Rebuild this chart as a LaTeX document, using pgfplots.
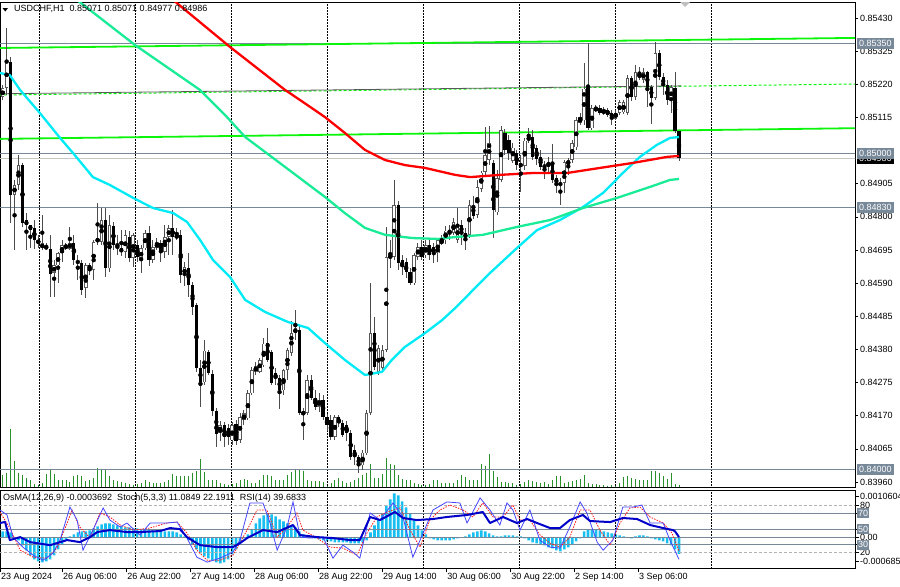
\documentclass[border=0pt]{standalone}
\usepackage{pgfplots}
\pgfplotsset{compat=1.18}
\usepackage{pgfplotstable}
\usepackage{fontspec}
\setmainfont{Liberation Sans}
\definecolor{lvl}{RGB}{119,136,153}
\definecolor{aquaMA}{RGB}{0,235,245}
\definecolor{springMA}{RGB}{25,235,150}
\definecolor{limeL}{RGB}{10,245,10}
\definecolor{osma}{RGB}{25,190,240}
\definecolor{volg}{RGB}{40,145,40}
\definecolor{rsiblue}{RGB}{0,0,200}
\definecolor{stochblue}{RGB}{70,70,255}
\newcommand{\tf}{\fontsize{9bp}{10bp}\selectfont}

\pgfplotstableread{
i o h l c
0 0.85180 0.85218 0.85170 0.85208
1 0.85208 0.85401 0.85186 0.85291
2 0.85291 0.85306 0.84781 0.84869
3 0.84869 0.84917 0.84695 0.84901
4 0.84901 0.84996 0.84885 0.84964
5 0.84964 0.84971 0.84768 0.84781
6 0.84790 0.84812 0.84695 0.84774
7 0.84774 0.84774 0.84701 0.84758
8 0.84765 0.84790 0.84701 0.84727
9 0.84727 0.84743 0.84701 0.84717
10 0.84701 0.84806 0.84695 0.84717
11 0.84708 0.84717 0.84695 0.84701
12 0.84701 0.84743 0.84546 0.84622
13 0.84622 0.84663 0.84546 0.84647
14 0.84647 0.84689 0.84590 0.84685
15 0.84685 0.84727 0.84657 0.84711
16 0.84704 0.84717 0.84695 0.84711
17 0.84701 0.84768 0.84695 0.84720
18 0.84717 0.84743 0.84647 0.84663
19 0.84663 0.84679 0.84600 0.84654
20 0.84654 0.84663 0.84552 0.84568
21 0.84575 0.84654 0.84543 0.84647
22 0.84647 0.84654 0.84616 0.84632
23 0.84632 0.84727 0.84600 0.84720
24 0.84720 0.84844 0.84711 0.84733
25 0.84720 0.84828 0.84711 0.84790
26 0.84790 0.84828 0.84609 0.84638
27 0.84638 0.84806 0.84625 0.84774
28 0.84771 0.84784 0.84695 0.84711
29 0.84711 0.84743 0.84679 0.84701
30 0.84701 0.84758 0.84676 0.84689
31 0.84689 0.84758 0.84670 0.84743
32 0.84739 0.84758 0.84657 0.84670
33 0.84670 0.84749 0.84641 0.84743
34 0.84711 0.84727 0.84657 0.84673
35 0.84663 0.84711 0.84622 0.84701
36 0.84701 0.84758 0.84695 0.84749
37 0.84749 0.84774 0.84647 0.84663
38 0.84663 0.84727 0.84654 0.84704
39 0.84704 0.84733 0.84695 0.84720
40 0.84717 0.84727 0.84657 0.84689
41 0.84689 0.84774 0.84670 0.84736
42 0.84736 0.84774 0.84679 0.84765
43 0.84765 0.84822 0.84679 0.84736
44 0.84736 0.84765 0.84727 0.84743
45 0.84743 0.84758 0.84590 0.84616
46 0.84616 0.84657 0.84584 0.84641
47 0.84638 0.84685 0.84546 0.84584
48 0.84584 0.84594 0.84489 0.84514
49 0.84521 0.84527 0.84309 0.84321
50 0.84321 0.84347 0.84198 0.84277
51 0.84277 0.84410 0.84267 0.84378
52 0.84372 0.84378 0.84299 0.84305
53 0.84305 0.84315 0.84172 0.84188
54 0.84188 0.84194 0.84071 0.84115
55 0.84115 0.84156 0.84093 0.84141
56 0.84141 0.84150 0.84071 0.84103
57 0.84134 0.84144 0.84077 0.84103
58 0.84093 0.84150 0.84077 0.84141
59 0.84144 0.84156 0.84077 0.84093
60 0.84093 0.84179 0.84084 0.84166
61 0.84156 0.84188 0.84141 0.84179
62 0.84163 0.84251 0.84156 0.84242
63 0.84242 0.84324 0.84236 0.84315
64 0.84309 0.84340 0.84299 0.84328
65 0.84309 0.84353 0.84305 0.84347
66 0.84331 0.84416 0.84324 0.84400
67 0.84400 0.84448 0.84340 0.84347
68 0.84372 0.84378 0.84267 0.84274
69 0.84305 0.84321 0.84267 0.84289
70 0.84289 0.84299 0.84194 0.84251
71 0.84251 0.84321 0.84236 0.84315
72 0.84315 0.84385 0.84283 0.84378
73 0.84369 0.84473 0.84362 0.84432
74 0.84432 0.84505 0.84410 0.84448
75 0.84442 0.84457 0.84172 0.84179
76 0.84172 0.84194 0.84093 0.84185
77 0.84179 0.84299 0.84172 0.84283
78 0.84283 0.84299 0.84220 0.84226
79 0.84226 0.84251 0.84188 0.84198
80 0.84198 0.84242 0.84182 0.84220
81 0.84220 0.84236 0.84156 0.84166
82 0.84166 0.84179 0.84125 0.84141
83 0.84156 0.84172 0.84093 0.84103
84 0.84103 0.84172 0.84093 0.84166
85 0.84166 0.84172 0.84134 0.84147
86 0.84147 0.84156 0.84103 0.84109
87 0.84141 0.84156 0.84093 0.84115
88 0.84115 0.84125 0.84030 0.84039
89 0.84061 0.84077 0.84014 0.84039
90 0.84039 0.84046 0.83989 0.84014
91 0.84014 0.84061 0.83998 0.84055
92 0.84052 0.84188 0.84046 0.84179
93 0.84179 0.84590 0.84172 0.84432
94 0.84432 0.84483 0.84315 0.84324
95 0.84309 0.84394 0.84299 0.84385
96 0.84321 0.84394 0.84309 0.84378
97 0.84378 0.84768 0.84372 0.84673
98 0.84670 0.84727 0.84638 0.84679
99 0.84673 0.84917 0.84663 0.84838
100 0.84838 0.84853 0.84632 0.84654
101 0.84663 0.84679 0.84616 0.84641
102 0.84657 0.84670 0.84606 0.84625
103 0.84625 0.84638 0.84584 0.84590
104 0.84590 0.84685 0.84584 0.84679
105 0.84673 0.84717 0.84663 0.84704
106 0.84704 0.84727 0.84663 0.84673
107 0.84679 0.84727 0.84670 0.84711
108 0.84711 0.84727 0.84663 0.84679
109 0.84704 0.84717 0.84654 0.84685
110 0.84685 0.84733 0.84657 0.84727
111 0.84717 0.84743 0.84711 0.84727
112 0.84727 0.84774 0.84717 0.84758
113 0.84758 0.84774 0.84727 0.84749
114 0.84749 0.84796 0.84743 0.84784
115 0.84727 0.84828 0.84717 0.84774
116 0.84774 0.84790 0.84711 0.84749
117 0.84749 0.84765 0.84695 0.84736
118 0.84743 0.84853 0.84733 0.84838
119 0.84838 0.84869 0.84796 0.84806
120 0.84806 0.84917 0.84796 0.84895
121 0.84891 0.84948 0.84879 0.84942
122 0.84942 0.85085 0.84933 0.84996
123 0.84980 0.85088 0.84964 0.85034
124 0.84971 0.84980 0.84733 0.84822
125 0.84815 0.84948 0.84806 0.84923
126 0.84917 0.85088 0.84910 0.85075
127 0.85066 0.85081 0.84996 0.85012
128 0.85043 0.85059 0.84980 0.85002
129 0.84980 0.85034 0.84971 0.85021
130 0.85002 0.85012 0.84948 0.84964
131 0.84971 0.84996 0.84879 0.84958
132 0.84964 0.85050 0.84948 0.85043
133 0.85043 0.85081 0.85034 0.85053
134 0.85053 0.85075 0.84980 0.84990
135 0.85021 0.85028 0.84964 0.84986
136 0.84990 0.85012 0.84948 0.84958
137 0.84964 0.84980 0.84923 0.84955
138 0.84958 0.84990 0.84942 0.84974
139 0.84974 0.85031 0.84907 0.84917
140 0.84923 0.84933 0.84876 0.84907
141 0.84910 0.84923 0.84838 0.84901
142 0.84907 0.84980 0.84876 0.84974
143 0.84964 0.84986 0.84933 0.84980
144 0.84980 0.85043 0.84971 0.85034
145 0.85021 0.85116 0.85012 0.85107
146 0.85097 0.85132 0.85091 0.85116
147 0.85107 0.85287 0.85091 0.85208
148 0.85208 0.85351 0.85075 0.85081
149 0.85081 0.85154 0.85075 0.85145
150 0.85139 0.85154 0.85132 0.85145
151 0.85145 0.85154 0.85123 0.85129
152 0.85129 0.85148 0.85123 0.85139
153 0.85139 0.85145 0.85116 0.85123
154 0.85132 0.85139 0.85091 0.85113
155 0.85113 0.85139 0.85107 0.85132
156 0.85129 0.85170 0.85123 0.85164
157 0.85132 0.85170 0.85126 0.85164
158 0.85129 0.85249 0.85123 0.85240
159 0.85240 0.85249 0.85170 0.85180
160 0.85180 0.85281 0.85170 0.85259
161 0.85240 0.85275 0.85234 0.85256
162 0.85234 0.85272 0.85224 0.85259
163 0.85259 0.85265 0.85148 0.85211
164 0.85211 0.85218 0.85097 0.85177
165 0.85177 0.85354 0.85170 0.85319
166 0.85319 0.85329 0.85234 0.85243
167 0.85243 0.85256 0.85186 0.85218
168 0.85218 0.85234 0.85154 0.85170
169 0.85170 0.85218 0.85129 0.85211
170 0.85208 0.85259 0.85066 0.85071
171 0.85071 0.85071 0.84977 0.84986
}\candles

\pgfplotstableread[row sep=\\]{
i v\\
0 12\\ 1 14\\ 2 58\\ 3 26\\ 4 14\\ 5 12\\ 6 9\\ 7 7\\ 8 3\\ 9 2\\ 10 4\\ 11 13\\ 12 17\\ 13 13\\ 14 7\\ 15 7\\ 16 7\\ 17 5\\ 18 11\\ 19 12\\
20 11\\ 21 6\\ 22 7\\ 23 9\\ 24 19\\ 25 18\\ 26 18\\ 27 11\\ 28 7\\ 29 6\\ 30 5\\ 31 4\\ 32 3\\ 33 2\\ 34 3\\ 35 4\\ 36 7\\ 37 5\\ 38 4\\ 39 4\\
40 4\\ 41 5\\ 42 7\\ 43 13\\ 44 11\\ 45 11\\ 46 11\\ 47 11\\ 48 14\\ 49 16\\ 50 28\\ 51 15\\ 52 7\\ 53 7\\ 54 7\\ 55 4\\ 56 3\\ 57 2\\ 58 3\\ 59 4\\
60 7\\ 61 8\\ 62 7\\ 63 4\\ 64 4\\ 65 7\\ 66 12\\ 67 12\\ 68 11\\ 69 7\\ 70 7\\ 71 7\\ 72 12\\ 73 15\\ 74 17\\ 75 17\\ 76 16\\ 77 7\\ 78 6\\ 79 6\\
80 6\\ 81 5\\ 82 3\\ 83 4\\ 84 7\\ 85 9\\ 86 6\\ 87 4\\ 88 5\\ 89 7\\ 90 9\\ 91 12\\ 92 14\\ 93 23\\ 94 9\\ 95 9\\ 96 13\\ 97 29\\ 98 23\\ 99 22\\
100 12\\ 101 8\\ 102 7\\ 103 7\\ 104 4\\ 105 3\\ 106 2\\ 107 2\\ 108 3\\ 109 7\\ 110 7\\ 111 4\\ 112 4\\ 113 4\\ 114 4\\ 115 7\\ 116 12\\ 117 10\\ 118 7\\ 119 7\\
120 7\\ 121 23\\ 122 21\\ 123 33\\ 124 16\\ 125 10\\ 126 5\\ 127 5\\ 128 4\\ 129 4\\ 130 2\\ 131 3\\ 132 5\\ 133 7\\ 134 6\\ 135 5\\ 136 4\\ 137 5\\ 138 3\\ 139 7\\
140 11\\ 141 11\\ 142 4\\ 143 5\\ 144 6\\ 145 7\\ 146 8\\ 147 12\\ 148 4\\ 149 3\\ 150 3\\ 151 2\\ 152 2\\ 153 1\\ 154 2\\ 155 2\\ 156 4\\ 157 10\\ 158 11\\ 159 9\\
160 8\\ 161 7\\ 162 7\\ 163 7\\ 164 16\\ 165 16\\ 166 14\\ 167 11\\ 168 8\\ 169 14\\ 170 3\\ 171 2\\
}\vol

% OsMA(12,26,9) in units of 0.00001
\pgfplotstableread[row sep=\\]{
i m\\
0 13.4\\ 1 13.4\\ 2 11.2\\ 3 0\\ 4 -6.7\\ 5 -17.9\\ 6 -29.1\\ 7 -40.3\\ 8 -49.2\\ 9 -53.7\\ 10 -55.9\\ 11 -53.7\\ 12 -49.2\\ 13 -40.3\\ 14 -26.9\\ 15 -15.7\\ 16 -6.7\\ 17 2.2\\ 18 6.7\\ 19 11.2\\
20 13.4\\ 21 13.4\\ 22 15.7\\ 23 20.1\\ 24 24.6\\ 25 29.1\\ 26 31.3\\ 27 31.3\\ 28 29.1\\ 29 26.9\\ 30 24.6\\ 31 22.4\\ 32 22.4\\ 33 20.1\\ 34 20.1\\ 35 17.9\\ 36 17.9\\ 37 17.9\\ 38 15.7\\ 39 15.7\\
40 15.7\\ 41 13.4\\ 42 13.4\\ 43 13.4\\ 44 11.2\\ 45 6.7\\ 46 2.2\\ 47 -6.7\\ 48 -15.7\\ 49 -26.9\\ 50 -35.8\\ 51 -42.5\\ 52 -47.0\\ 53 -51.5\\ 54 -55.9\\ 55 -58.2\\ 56 -55.9\\ 57 -49.2\\ 58 -38.0\\ 59 -26.9\\
60 -13.4\\ 61 -2.2\\ 62 6.7\\ 63 17.9\\ 64 31.3\\ 65 42.5\\ 66 49.2\\ 67 53.7\\ 68 51.5\\ 69 47.0\\ 70 40.3\\ 71 35.8\\ 72 31.3\\ 73 26.9\\ 74 22.4\\ 75 13.4\\ 76 6.7\\ 77 2.2\\ 78 0\\ 79 -2.2\\
80 -4.5\\ 81 -6.7\\ 82 -9.0\\ 83 -9.0\\ 84 -11.2\\ 85 -11.2\\ 86 -11.2\\ 87 -11.2\\ 88 -13.4\\ 89 -13.4\\ 90 -13.4\\ 91 -11.2\\ 92 -6.7\\ 93 11.2\\ 94 26.9\\ 95 40.3\\ 96 53.7\\ 97 71.6\\ 98 85.0\\ 99 98.5\\
100 94.0\\ 101 80.6\\ 102 67.1\\ 103 53.7\\ 104 40.3\\ 105 26.9\\ 106 15.7\\ 107 6.7\\ 108 -2.2\\ 109 -4.5\\ 110 -6.7\\ 111 -6.7\\ 112 -6.7\\ 113 -6.7\\ 114 -4.5\\ 115 -2.2\\ 116 0\\ 117 2.2\\ 118 6.7\\ 119 11.2\\
120 13.4\\ 121 15.7\\ 122 13.4\\ 123 9.0\\ 124 4.5\\ 125 2.2\\ 126 2.2\\ 127 4.5\\ 128 4.5\\ 129 4.5\\ 130 2.2\\ 131 2.2\\ 132 -2.2\\ 133 -6.7\\ 134 -11.2\\ 135 -13.4\\ 136 -15.7\\ 137 -17.9\\ 138 -22.4\\ 139 -24.6\\
140 -29.1\\ 141 -31.3\\ 142 -26.9\\ 143 -22.4\\ 144 -15.7\\ 145 -9.0\\ 146 -2.2\\ 147 13.4\\ 148 17.9\\ 149 17.9\\ 150 17.9\\ 151 15.7\\ 152 13.4\\ 153 11.2\\ 154 9.0\\ 155 6.7\\ 156 4.5\\ 157 2.2\\ 158 0\\ 159 -2.2\\
160 2.2\\ 161 4.5\\ 162 4.5\\ 163 2.2\\ 164 -2.2\\ 165 -4.5\\ 166 -6.7\\ 167 -9.0\\ 168 -13.4\\ 169 -17.9\\ 170 -26.9\\ 171 -36.92\\
}\osmatab

\pgfplotsset{
  chartbase/.style={scale only axis, width=855bp, xmin=-0.683, xmax=215.5,
    anchor=north west, axis line style={black, line width=0.8bp},
    tick style={black, line width=0.6bp}, every tick label/.append style={font=\tf}},
  wick/.style={only marks, mark=none, forget plot, error bars/.cd, y dir=both, y explicit, error mark=none},
}

\begin{document}
\begin{tikzpicture}
\useasboundingbox (0bp,0bp) rectangle (900bp,-587bp);
\clip (0bp,0bp) rectangle (900bp,-587bp);

% ---------- volumes ----------
\begin{axis}[chartbase, at={(0bp,-2bp)}, height=485bp, ymin=0, ymax=485, hide axis]
\addplot[ycomb, volg, line width=0.9bp, mark=none] table[x=i,y=v]{\vol};
\end{axis}

% ---------- main price panel ----------
\begin{axis}[chartbase, at={(0bp,-2bp)}, height=485bp,
  ymin=0.839442, ymax=0.854807, xtick=\empty,
  ytick={0.83960,0.84065,0.84170,0.84275,0.84380,0.84485,0.84590,0.84695,0.84800,0.84905,0.85115,0.85220,0.85325,0.85430},
  yticklabels={0.83960,0.84065,0.84170,0.84275,0.84380,0.84485,0.84590,0.84695,0.84800,0.84905,0.85115,0.85220,0.85325,0.85430},
  ytick pos=right, yticklabel pos=right, ytick align=outside, major tick length=3bp,
  yticklabel style={anchor=west, inner sep=0pt, xshift=2bp}]
% grid
\pgfplotsinvokeforeach{9.30,33.58,57.85,82.12,106.40,130.67,154.94,179.21}{
  \addplot[black, line width=0.6bp, dash pattern=on 1.5bp off 1.5bp, forget plot] coordinates {(#1,0.8390) (#1,0.8550)};
}
% level lines
\addplot[lvl, line width=1bp] coordinates {(-1,0.85350) (216,0.85350)};
\addplot[lvl, line width=1bp] coordinates {(-1,0.85000) (216,0.85000)};
\addplot[black!22, line width=1bp] coordinates {(-1,0.84986) (216,0.84986)};
\addplot[lvl, line width=1bp] coordinates {(-1,0.84830) (216,0.84830)};
\addplot[lvl, line width=1bp] coordinates {(-1,0.84000) (216,0.84000)};
% channel lines
\addplot[limeL, line width=1.8bp] coordinates {(-1,0.85335) (216,0.85367)};
\addplot[limeL, line width=1bp, dash pattern=on 3bp off 2bp] coordinates {(-1,0.85186) (216,0.85221)};
\addplot[black!65, line width=0.8bp] coordinates {(-1,0.85190) (171.5,0.85215)};
\addplot[limeL, line width=1.8bp] coordinates {(-1,0.85047) (216,0.85081)};
% candles: wicks
\addplot[wick, error bar style={draw=black!70, line width=1bp}]
  table[x=i, y expr={(\thisrow{h}+\thisrow{l})/2}, y error expr={(\thisrow{h}-\thisrow{l})/2}]{\candles};
% bearish bodies
\addplot[wick, error bar style={draw=black, line width=3.2bp}]
  table[x=i, y expr={\thisrow{c}<\thisrow{o} ? (\thisrow{o}+\thisrow{c})/2 : nan},
        y error expr={max(abs(\thisrow{o}-\thisrow{c})/2,0.000010)}]{\candles};
% bullish bodies
\addplot[wick, error bar style={draw=black!65, line width=3.5bp}]
  table[x=i, y expr={\thisrow{c}<\thisrow{o} ? nan : (\thisrow{o}+\thisrow{c})/2},
        y error expr={max(abs(\thisrow{o}-\thisrow{c})/2,0.000010)}]{\candles};
\addplot[wick, error bar style={draw=white, line width=1.7bp}]
  table[x=i, y expr={\thisrow{c}<\thisrow{o} ? nan : (\thisrow{o}+\thisrow{c})/2},
        y error expr={max(abs(\thisrow{o}-\thisrow{c})/2-0.000025,0)}]{\candles};
% moving averages
\addplot[aquaMA, line width=2.3bp, line join=round] coordinates {
(-0.7,0.85256) (1.8,0.85249) (4.4,0.85202) (9.4,0.85129) (14.5,0.85050) (17.8,0.85002) (22.8,0.84926) (27.1,0.84901) (33.0,0.84860) (38.0,0.84828) (43.1,0.84812) (46.6,0.84784) (49.9,0.84727) (53.2,0.84663) (57.5,0.84609) (61.3,0.84537) (66.3,0.84499) (72.1,0.84467) (77.2,0.84448) (81.5,0.84400) (86.5,0.84347) (91.6,0.84299) (95.9,0.84309) (98.4,0.84347) (101.7,0.84388) (106.8,0.84432) (111.1,0.84473) (114.4,0.84511) (118.2,0.84559) (123.2,0.84622) (130.0,0.84701) (135.1,0.84758) (140.9,0.84790) (146.7,0.84831) (151.8,0.84876) (156.8,0.84939) (161.1,0.84990) (165.4,0.85028) (168.7,0.85050) (171.0,0.85053)};
\addplot[springMA, line width=2.3bp, line join=round] coordinates {
(13.2,0.85535) (18.8,0.85487) (33.5,0.85344) (49.9,0.85202) (56.2,0.85123) (61.3,0.85053) (71.4,0.84958) (81.5,0.84863) (86.5,0.84812) (91.6,0.84765) (96.7,0.84743) (103.5,0.84733) (110.1,0.84730) (114.4,0.84736) (121.4,0.84743) (130.0,0.84768) (138.4,0.84790) (146.7,0.84828) (155.3,0.84860) (163.7,0.84895) (168.7,0.84917) (171.0,0.84920)};
\addplot[red, line width=2.3bp, line join=round] coordinates {
(39.8,0.85535) (43.1,0.85487) (57.5,0.85338) (71.4,0.85202) (75.2,0.85170) (81.5,0.85116) (86.5,0.85066) (91.6,0.85012) (96.7,0.84980) (101.7,0.84964) (106.8,0.84955) (114.4,0.84933) (118.2,0.84926) (125.7,0.84933) (134.1,0.84939) (142.7,0.84939) (151.0,0.84955) (159.4,0.84971) (168.0,0.84990) (171.0,0.84993)};
\coordinate (L1) at (axis cs:215.5,0.85350);
\coordinate (L2) at (axis cs:215.5,0.85000);
\coordinate (L3) at (axis cs:215.5,0.84986);
\coordinate (L4) at (axis cs:215.5,0.84830);
\coordinate (L5) at (axis cs:215.5,0.84000);
\end{axis}

\tikzset{lvlbox/.style={fill=lvl, text=white, font=\tf, inner xsep=2bp, inner ysep=0pt, minimum height=11.5bp, anchor=west}}
\node[lvlbox] at ([xshift=2bp]L1) {0.85350};
\node[lvlbox, fill=black, yshift=-0.5bp] at ([xshift=2bp]L3) {0.84986};
\node[lvlbox] at ([xshift=2bp]L2) {0.85000};
\node[lvlbox] at ([xshift=2bp]L4) {0.84830};
\node[lvlbox] at ([xshift=2bp]L5) {0.84000};

% title
\fill (2.5bp,-8bp) -- (8bp,-8bp) -- (5.25bp,-11.5bp) -- cycle;
\node[anchor=west, inner sep=0pt, font=\tf] at (14bp,-8.5bp) {USDCHF,H1\ \ 0.85071 0.85071 0.84977 0.84986};
\fill[black!25] (680bp,-2bp) -- (690bp,-2bp) -- (685bp,-7bp) -- cycle;

% ---------- OsMA histogram ----------
\begin{axis}[chartbase, at={(0bp,-490bp)}, height=78bp, ymin=-68.5, ymax=106.04, hide axis]
\addplot[ybar, bar width=2.6bp, bar shift=0pt, fill=osma, draw=none] table[x=i,y=m]{\osmatab};
\end{axis}

% ---------- RSI / Stochastic panel ----------
\begin{axis}[chartbase, at={(0bp,-490bp)}, height=78bp, ymin=0, ymax=100,
  xtick={-0.683,15.0,31.2,47.4,63.5,79.7,95.9,112.1,128.3,144.4,160.6},
  xticklabels={23 Aug 2024,26 Aug 06:00,26 Aug 22:00,27 Aug 14:00,28 Aug 06:00,28 Aug 22:00,29 Aug 14:00,30 Aug 06:00,30 Aug 22:00,2 Sep 14:00,3 Sep 06:00},
  xtick pos=bottom, xtick align=outside, major tick length=4bp,
  xticklabel style={anchor=north west, inner sep=0pt, xshift=1bp, yshift=-1bp},
  ytick={8.8,20,30,39.3,50,70,80,92.4}, yticklabels={}, ytick pos=right, ytick align=outside]
\pgfplotsinvokeforeach{9.30,33.58,57.85,82.12,106.40,130.67,154.94,179.21}{
  \addplot[black, line width=0.6bp, dash pattern=on 1.5bp off 1.5bp, forget plot] coordinates {(#1,-5) (#1,105)};
}
\addplot[black!30, line width=0.8bp, dash pattern=on 3bp off 2bp] coordinates {(-1,80) (216,80)};
\addplot[black!30, line width=0.8bp, dash pattern=on 3bp off 2bp] coordinates {(-1,20) (216,20)};
\addplot[lvl, line width=0.9bp] coordinates {(-1,70) (216,70)};
\addplot[lvl, line width=0.9bp] coordinates {(-1,50) (216,50)};
\addplot[lvl, line width=0.9bp] coordinates {(-1,39.3) (216,39.3)};
\addplot[lvl, line width=0.9bp] coordinates {(-1,30) (216,30)};
% Stochastic signal
\addplot[red!90, line width=0.8bp, dash pattern=on 1.5bp off 1.2bp] coordinates {
(-0.7,71.8) (1.8,51.2) (4.4,22.9) (7.7,13.9) (11.2,12.6) (13.7,25.5) (16.3,57.7) (17.5,74.4) (19.5,52.5) (22.1,38.4) (24.6,70.5) (27.1,65.4) (29.7,55.1) (33.0,48.6) (37.2,51.2) (41.5,57.7) (44.1,58.9) (46.6,44.8) (49.1,22.9) (51.7,10.0) (54.9,10.0) (58.2,16.5) (61.8,48.6) (64.3,74.4) (66.8,74.4) (69.4,39.6) (71.9,52.5) (74.4,70.5) (75.9,48.6) (79.5,38.4) (82.8,26.8) (86.0,25.5) (89.6,16.5) (92.1,44.8) (94.6,65.4) (97.2,71.8) (100.5,77.0) (103.0,48.6) (105.5,26.8) (108.0,61.5) (110.6,74.4) (113.1,80.8) (116.4,74.4) (118.9,65.4) (121.4,83.4) (124.0,65.4) (126.5,65.4) (129.0,80.8) (130.8,61.5) (133.3,61.5) (135.9,42.2) (138.4,31.9) (140.9,26.8) (143.4,39.6) (146.0,74.4) (148.5,74.4) (151.0,48.6) (153.6,29.3) (156.1,57.7) (158.6,77.0) (161.1,78.2) (163.7,65.4) (167.0,57.7) (169.2,44.8) (171,22.19)};
% Stochastic main
\addplot[stochblue, line width=0.8bp] coordinates {
(-0.7,74.4) (1.1,68.0) (2.6,39.6) (5.1,26.8) (7.7,16.5) (10.2,10.0) (12.7,19.0) (14.5,35.8) (17.0,78.2) (18.8,61.5) (20.3,22.9) (22.8,48.6) (25.4,77.0) (27.1,61.5) (29.7,52.5) (31.4,57.7) (34.7,42.2) (37.3,57.7) (41.5,57.7) (44.1,58.9) (46.6,38.4) (49.1,13.9) (51.7,7.5) (54.9,12.6) (58.2,20.3) (60.0,35.8) (62.5,83.4) (65.8,83.4) (67.6,57.7) (69.4,22.9) (71.9,52.5) (73.4,84.7) (75.2,39.6) (77.7,38.4) (81.0,39.6) (83.5,12.6) (86.0,29.3) (88.6,20.3) (90.3,12.6) (92.9,70.5) (95.4,61.5) (98.7,83.4) (101.2,65.4) (103.7,13.9) (106.3,44.8) (108.8,74.4) (112.3,84.7) (115.6,83.4) (117.4,57.7) (120.7,89.8) (123.2,74.4) (125.7,55.1) (127.5,83.4) (129.0,74.4) (130.8,48.6) (133.3,74.4) (135.8,35.8) (138.4,26.8) (140.9,25.5) (143.4,52.5) (146.0,84.7) (147.7,70.5) (150.3,33.2) (151.8,22.9) (154.3,35.8) (156.8,78.2) (159.4,78.2) (161.6,80.8) (163.7,57.7) (167.0,57.7) (168.7,35.8) (171,11.08)};
% RSI
\addplot[rsiblue, line width=2bp, line join=round] coordinates {
(-0.7,57.7) (0.6,59.0) (1.8,35.8) (4.4,39.6) (6.9,33.2) (12.0,29.3) (13.7,31.9) (16.3,35.8) (19.5,33.2) (22.1,39.6) (23.9,46.1) (27.1,48.6) (31.4,46.1) (34.7,46.1) (39.8,47.4) (42.3,51.2) (44.8,49.9) (46.6,39.6) (49.9,29.3) (54.2,26.8) (58.2,26.8) (60.0,31.9) (61.8,38.4) (65.8,48.6) (69.4,46.1) (73.4,55.1) (75.2,42.2) (79.5,39.6) (83.5,38.4) (87.8,35.8) (90.3,35.8) (92.9,65.4) (95.4,61.5) (99.2,71.8) (101.2,64.1) (104.7,61.5) (108.8,62.8) (112.3,65.4) (117.4,68.0) (121.4,71.8) (123.2,57.7) (126.5,65.4) (130.0,57.7) (132.6,62.8) (135.1,57.7) (138.4,51.2) (140.9,51.2) (143.4,61.5) (146.7,68.0) (148.5,60.2) (153.6,58.9) (156.8,64.1) (160.4,62.8) (163.7,55.1) (167.0,51.2) (169.5,48.6) (170,47.0) (171,39.68)};
\coordinate (R1) at (axis cs:215.5,92.4);
\coordinate (R2) at (axis cs:215.5,80);
\coordinate (R3) at (axis cs:215.5,70);
\coordinate (R4) at (axis cs:215.5,50);
\coordinate (R5) at (axis cs:215.5,39.3);
\coordinate (R6) at (axis cs:215.5,30);
\coordinate (R7) at (axis cs:215.5,20);
\coordinate (R8) at (axis cs:215.5,8.8);
\end{axis}

\tikzset{rl/.style={anchor=west, inner sep=0pt, font=\tf}, rb/.style={lvlbox, inner xsep=1bp, minimum height=10bp}}
\node[rl] at ([xshift=5bp]R1) {0.0010604};
\node[rl] at ([xshift=5bp]R2) {80};
\node[rl] at ([xshift=5bp]R5) {0.00};
\node[rl] at ([xshift=5bp]R7) {20};
\node[rl] at ([xshift=5bp]R8) {-0.000685};
\node[rb] at ([xshift=2bp]R3) {70};
\node[rb] at ([xshift=2bp]R4) {50};
\node[rb] at ([xshift=2bp]R6) {30};

\node[anchor=west, inner sep=0pt, font=\tf] at (3bp,-498.5bp) {OsMA(12,26,9) -0.0003692\ \ Stoch(5,3,3) 11.0849 22.1911\ \ RSI(14) 39.6833};
\end{tikzpicture}
\end{document}
